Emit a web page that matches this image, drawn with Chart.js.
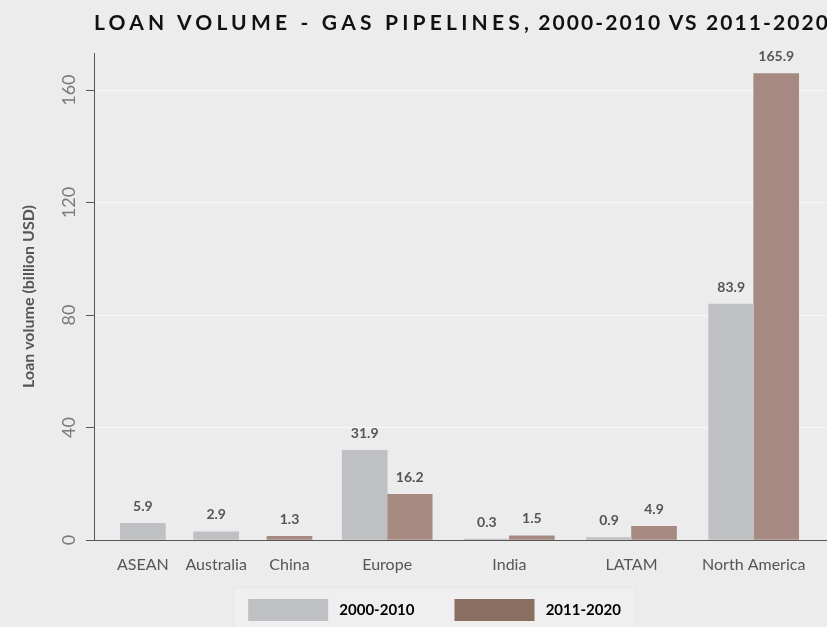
<!DOCTYPE html>
<html>
<head>
<meta charset="utf-8">
<script src="https://cdn.jsdelivr.net/npm/chart.js@4.4.1/dist/chart.umd.min.js"></script>
<style>
    html, body { margin: 0; padding: 0; background: #ececec; }
    #wrap { position: relative; width: 827px; height: 627px; overflow: hidden; }
    #chart { position: absolute; left: 0; top: 0; }
    #title {
        position: absolute; left: 94px; top: 10px;
        white-space: nowrap; font-family: Lato, sans-serif;
        font-size: 21px; line-height: 24px; font-weight: 700; color: #111;
    }
    #title .main { letter-spacing: 4.2px; }
    #title .sub { letter-spacing: 2.1px; }
</style>
</head>
<body>
<div id="wrap">
    <canvas id="chart" width="827" height="627"></canvas>
    <div id="title"><span class="main">LOAN VOLUME - GAS PIPELINES</span><span class="sub">, 2000-2010 VS 2011-2020</span></div>
</div>
<script>
// Data
const regions = ['ASEAN', 'Australia', 'China', 'Europe', 'India', 'LATAM', 'North America'];
const seriesNames = ['2000-2010', '2011-2020'];
const loans2000_2010 = [5.9, 2.9, null, 31.9, 0.3, 0.9, 83.9];
const loans2011_2020 = [null, null, 1.3, 16.2, 1.5, 4.9, 165.9];
const yTicks = [0, 40, 80, 120, 160];

const barColors = ['#bfc0c3', '#a68a82'];
const legendColors = ['#bfc0c3', '#8a6e61'];

// Regions get room for the bars they actually have (like a free-space facet),
// so lay them out on a finer category axis with empty slots in between
const LEAD = 2, TRAIL = 3;
const barCount = regions.map((_, i) =>
    [loans2000_2010[i], loans2011_2020[i]].filter(v => v !== null).length);
const slotIndex = [];
let pos = LEAD;
regions.forEach((_, i) => {
    if (i > 0) pos += barCount[i - 1] + barCount[i] + 1;
    slotIndex.push(pos);
});
const slotCount = pos + TRAIL + 1;

function spread(values) {
    const out = new Array(slotCount).fill(null);
    values.forEach((v, i) => { out[slotIndex[i]] = v; });
    return out;
}
const slotLabels = spread(regions).map(l => l || '');

// Value labels above bars
const valueLabels = {
    id: 'valueLabels',
    afterDatasetsDraw(chart) {
        const ctx = chart.ctx;
        ctx.save();
        ctx.font = 'bold 14px Lato';
        ctx.fillStyle = '#555555';
        ctx.textAlign = 'center';
        ctx.textBaseline = 'middle';
        chart.data.datasets.forEach((ds, di) => {
            chart.getDatasetMeta(di).data.forEach((bar, i) => {
                const v = ds.data[i];
                if (v === null || v === undefined) return;
                ctx.fillText(v.toFixed(1), bar.x, bar.y - 17);
            });
        });
        ctx.restore();
    }
};

// Legend placement and its light panel
const legendPanel = {
    id: 'legendPanel',
    afterLayout(chart) {
        const lg = chart.legend;
        lg.top = 599 - lg.options.labels.padding;
        lg.left += 21;
        lg.right += 21;
    },
    beforeDraw(chart) {
        const lg = chart.legend;
        const pad = lg.options.labels.padding;
        const w = lg.lineWidths[0] - pad + 30;
        const cx = (lg.left + lg.right) / 2;
        const ctx = chart.ctx;
        ctx.save();
        ctx.fillStyle = '#efefef';
        ctx.strokeStyle = '#e6e6e6';
        ctx.fillRect(cx - w / 2, 587, w, 42);
        ctx.strokeRect(cx - w / 2 + 0.5, 587.5, w - 1, 42);
        ctx.restore();
    }
};

new Chart(document.getElementById('chart'), {
    type: 'bar',
    data: {
        labels: slotLabels,
        datasets: [
            {
                label: seriesNames[0],
                data: spread(loans2000_2010),
                backgroundColor: barColors[0],
                barThickness: 45,
                skipNull: true
            },
            {
                label: seriesNames[1],
                data: spread(loans2011_2020),
                backgroundColor: barColors[1],
                barThickness: 45,
                skipNull: true
            }
        ]
    },
    options: {
        responsive: false,
        animation: false,
        layout: { padding: { top: 53, left: 0, right: 0, bottom: 0 } },
        plugins: {
            legend: {
                position: 'bottom',
                maxHeight: 40,
                labels: {
                    boxWidth: 80,
                    boxHeight: 22,
                    padding: 40,
                    color: '#555555',
                    font: { family: 'Lato', size: 15, weight: 'bold' },
                    generateLabels: () => seriesNames.map((name, i) => ({
                        text: ' ' + name,
                        fillStyle: legendColors[i],
                        strokeStyle: legendColors[i],
                        lineWidth: 0,
                        datasetIndex: i
                    }))
                }
            },
            tooltip: { enabled: false }
        },
        scales: {
            x: {
                offset: false,
                grid: { display: false, drawTicks: true, tickLength: 15 },
                border: { display: true, color: '#555555', width: 1 },
                ticks: {
                    autoSkip: false,
                    maxRotation: 0,
                    padding: 0,
                    color: '#555555',
                    font: { family: 'Lato', size: 16 },
                    callback: (v, i) => slotLabels[i]
                },
                afterFit: scale => { scale.height = 47; }
            },
            y: {
                min: 0,
                max: 173.2,
                grid: { color: '#f8f8f8', lineWidth: 1, tickColor: '#555555', tickLength: 8 },
                border: { display: true, color: '#555555', width: 1 },
                ticks: {
                    minRotation: 90,
                    maxRotation: 90,
                    crossAlign: 'center',
                    padding: 1,
                    color: '#7a7a7a',
                    font: { family: 'Lato', size: 18 }
                },
                afterBuildTicks: scale => {
                    scale.ticks = yTicks.map(v => ({ value: v }));
                },
                title: {
                    display: true,
                    text: 'Loan volume (billion USD)',
                    color: '#555555',
                    font: { family: 'Lato', size: 16, weight: 'bold' },
                    padding: { top: 19, bottom: 0 }
                },
                afterFit: scale => { scale.width = 94; }
            }
        }
    },
    plugins: [valueLabels, legendPanel]
});
</script>
</body>
</html>
